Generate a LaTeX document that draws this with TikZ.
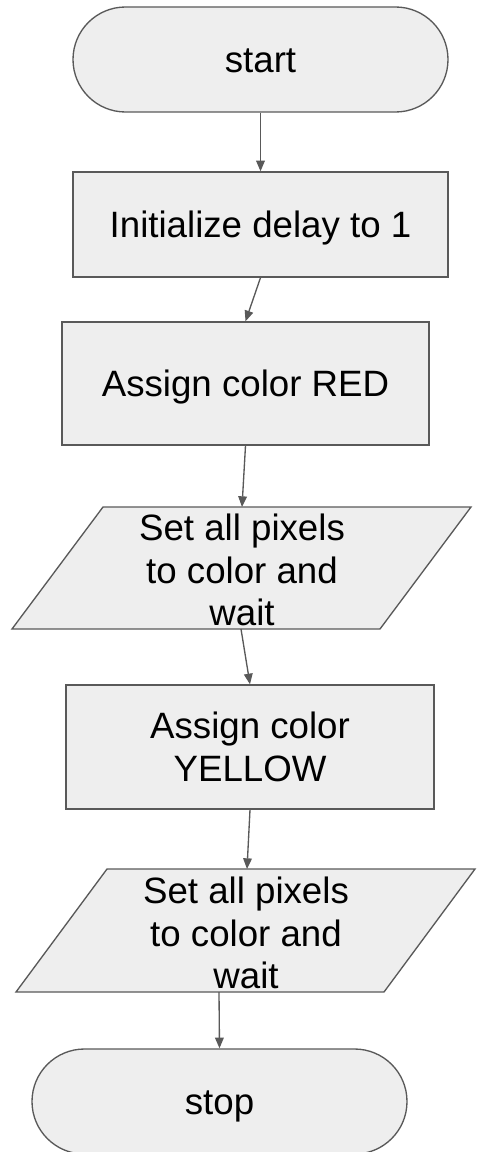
\documentclass[tikz,border=0pt]{standalone}
\usepackage{fontspec}
\setmainfont{Liberation Sans}
\usetikzlibrary{arrows.meta,shapes.misc}
\definecolor{linegray}{HTML}{595959}
\definecolor{shapefill}{HTML}{EEEEEE}
\begin{document}
\begin{tikzpicture}[x=0.75pt,y=-0.75pt,
  shapeline/.style={draw=linegray, fill=shapefill, line width=1pt},
  txt/.style={font=\fontsize{27.5pt}{32pt}\selectfont, align=center, text=black},
  oneline/.style={text height=24.9pt, text depth=5.8pt},
  terminal/.style={shapeline, txt, oneline, rounded rectangle, inner sep=0pt},
  process/.style={shapeline, txt, rectangle, inner sep=0pt},
  flowarrow/.style={draw=linegray, line width=1pt, -{Triangle[length=8pt,width=6.5pt]}}]
\useasboundingbox (0,0) rectangle (478,1152);

% terminals and process boxes
\node[terminal, minimum width=281.25pt, minimum height=78.75pt] (start) at (260.5,59.5) {start};
\node[process, oneline, minimum width=281.25pt, minimum height=78.75pt] (init) at (260.5,224.5) {Initialize delay to 1};
\node[process, oneline, minimum width=275.25pt, minimum height=92.25pt] (red) at (245.5,383.5) {Assign color RED};
\node[process, minimum width=276pt, minimum height=93pt] (yellow) at (250,747) {Assign color\\YELLOW};
\node[terminal, minimum width=281.25pt, minimum height=78.75pt] (stop) at (219.5,1101.5) {stop};

% input/output parallelograms
\draw[shapeline] (103,507) -- (471,507) -- (380,629) -- (12,629) -- cycle;
\node[txt, inner sep=0pt] (show1) at (242,570) {Set all pixels\\to color and\\wait};
\coordinate (show1top) at (242,507);
\coordinate (show1bot) at (241,629);

\draw[shapeline] (107,869) -- (475,869) -- (384,992) -- (16,992) -- cycle;
\node[txt, inner sep=0pt] (show2) at (246,933) {Set all pixels\\to color and\\wait};
\coordinate (show2top) at (247,869);
\coordinate (show2bot) at (219,992);

% connectors
\draw[flowarrow] (start.south) -- (init.north);
\draw[flowarrow] (init.south) -- (red.north);
\draw[flowarrow] (red.south) -- (show1top);
\draw[flowarrow] (show1bot) -- (yellow.north);
\draw[flowarrow] (yellow.south) -- (show2top);
\draw[flowarrow] (show2bot) -- (stop.north);
\end{tikzpicture}
\end{document}
